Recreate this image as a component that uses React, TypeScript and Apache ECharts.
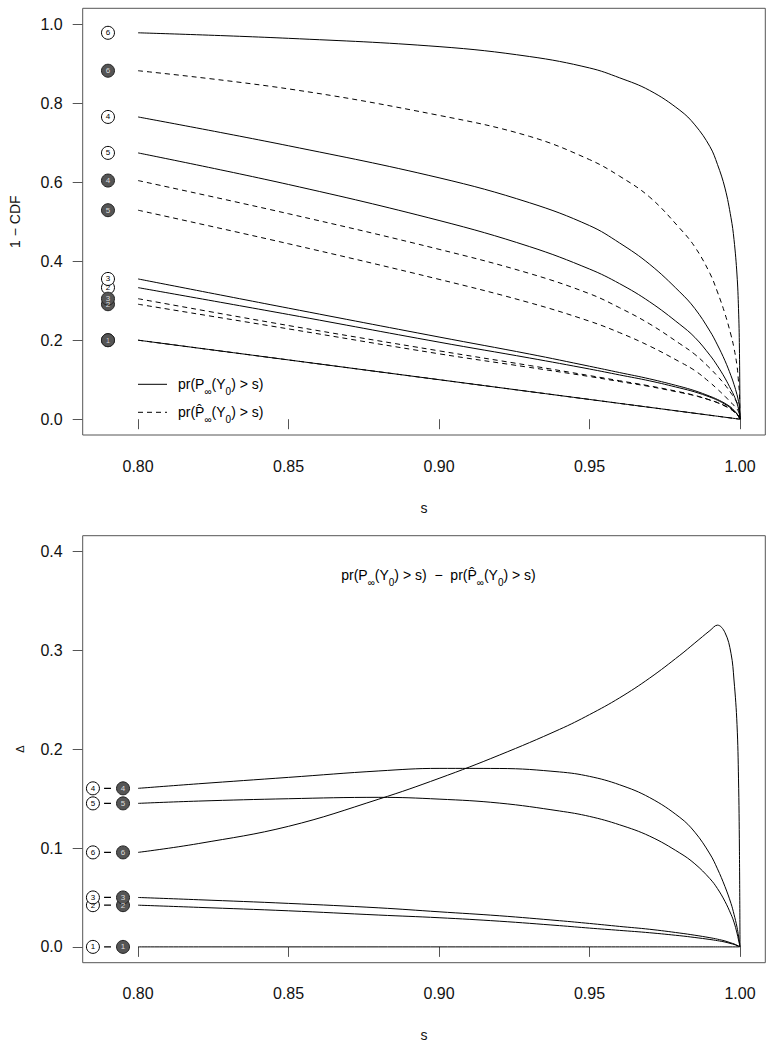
import React, { useEffect, useRef } from 'react';
import * as echarts from 'echarts';

// ---------- data ----------
const S_TOP = [0.8, 0.85, 0.9, 0.93, 0.95, 0.96, 0.97, 0.98, 0.985, 0.99, 0.9925, 0.995, 0.997, 0.998, 0.999, 0.9995, 0.9998, 1.0];

const TRUE_1 = [0.2, 0.15, 0.1, 0.07, 0.05, 0.04, 0.03, 0.02, 0.015, 0.01, 0.0075, 0.005, 0.003, 0.002, 0.001, 0.0005, 0.0002, 0];
const TRUE_2 = [0.333, 0.265, 0.195, 0.155, 0.127, 0.112, 0.097, 0.079, 0.069, 0.056, 0.048, 0.038, 0.028, 0.021, 0.013, 0.0075, 0.0037, 0];
const TRUE_3 = [0.355, 0.281, 0.208, 0.165, 0.134, 0.118, 0.102, 0.083, 0.072, 0.058, 0.05, 0.04, 0.03, 0.022, 0.014, 0.008, 0.004, 0];
const TRUE_4 = [0.765, 0.692, 0.611, 0.548, 0.49, 0.446, 0.392, 0.322, 0.28, 0.223, 0.188, 0.148, 0.11, 0.088, 0.062, 0.045, 0.03, 0];
const TRUE_5 = [0.674, 0.594, 0.503, 0.437, 0.38, 0.343, 0.297, 0.24, 0.207, 0.162, 0.135, 0.104, 0.075, 0.06, 0.04, 0.026, 0.015, 0];
const TRUE_6 = [0.978, 0.964, 0.943, 0.918, 0.889, 0.864, 0.832, 0.782, 0.745, 0.69, 0.645, 0.585, 0.51, 0.455, 0.365, 0.28, 0.18, 0];

const HAT_1 = [0.2, 0.15, 0.1, 0.07, 0.05, 0.04, 0.03, 0.02, 0.015, 0.01, 0.0075, 0.005, 0.003, 0.002, 0.001, 0.0005, 0.0002, 0];
const HAT_2 = [0.291, 0.2285, 0.1655, 0.1312, 0.108, 0.0953, 0.0827, 0.0677, 0.0595, 0.0485, 0.0417, 0.0331, 0.0247, 0.0185, 0.0117, 0.0068, 0.0034, 0];
const HAT_3 = [0.305, 0.237, 0.173, 0.136, 0.1104, 0.0973, 0.0842, 0.069, 0.0602, 0.0487, 0.0422, 0.034, 0.026, 0.019, 0.0124, 0.0072, 0.0037, 0];
const HAT_4 = [0.604, 0.52, 0.43, 0.369, 0.3175, 0.282, 0.241, 0.191, 0.164, 0.129, 0.109, 0.087, 0.066, 0.055, 0.042, 0.034, 0.025, 0];
const HAT_5 = [0.529, 0.444, 0.354, 0.295, 0.248, 0.219, 0.185, 0.145, 0.123, 0.093, 0.076, 0.058, 0.042, 0.035, 0.026, 0.019, 0.012, 0];
const HAT_6 = [0.882, 0.836, 0.769, 0.716, 0.657, 0.615, 0.562, 0.483, 0.436, 0.369, 0.322, 0.267, 0.213, 0.18, 0.135, 0.095, 0.065, 0];

const S_BOT = [0.8, 0.82, 0.85, 0.88, 0.9, 0.92, 0.94, 0.95, 0.96, 0.97, 0.98, 0.985, 0.99, 0.9925, 0.995, 0.997, 0.998, 0.999, 0.9995, 0.9998, 1.0];

const DIFF_1 = [0, 0, 0, 0, 0, 0, 0, 0, 0, 0, 0, 0, 0, 0, 0, 0, 0, 0, 0, 0, 0];
const DIFF_2 = [0.0422, 0.04, 0.0365, 0.0322, 0.0295, 0.026, 0.0215, 0.019, 0.0167, 0.0143, 0.0113, 0.0095, 0.0075, 0.0063, 0.0049, 0.0033, 0.0025, 0.0013, 0.0007, 0.0003, 0];
const DIFF_3 = [0.05, 0.0477, 0.044, 0.0395, 0.0355, 0.0315, 0.0265, 0.0237, 0.0207, 0.0178, 0.014, 0.0118, 0.0093, 0.0078, 0.006, 0.004, 0.003, 0.0016, 0.0008, 0.0003, 0];
const DIFF_4 = [0.1604, 0.165, 0.1715, 0.178, 0.1806, 0.1805, 0.177, 0.1725, 0.164, 0.151, 0.131, 0.116, 0.094, 0.079, 0.061, 0.044, 0.033, 0.02, 0.011, 0.005, 0];
const DIFF_5 = [0.1452, 0.1475, 0.1499, 0.1513, 0.1495, 0.1455, 0.1375, 0.132, 0.1235, 0.112, 0.095, 0.084, 0.069, 0.059, 0.046, 0.033, 0.025, 0.014, 0.007, 0.003, 0];
const DIFF_6 = [0.0956, 0.1045, 0.122, 0.1495, 0.1705, 0.194, 0.22, 0.235, 0.252, 0.272, 0.295, 0.3075, 0.32, 0.3255, 0.318, 0.297, 0.27, 0.225, 0.17, 0.1, 0];

const CASE_IDS = ['1', '2', '3', '4', '5', '6'];
const TRUE_CURVES = [TRUE_1, TRUE_2, TRUE_3, TRUE_4, TRUE_5, TRUE_6];
const HAT_CURVES = [HAT_1, HAT_2, HAT_3, HAT_4, HAT_5, HAT_6];
const DIFF_CURVES = [DIFF_1, DIFF_2, DIFF_3, DIFF_4, DIFF_5, DIFF_6];

const X_TICKS = [0.8, 0.85, 0.9, 0.95, 1.0];
const TOP_Y_TICKS = [0, 0.2, 0.4, 0.6, 0.8, 1.0];
const BOT_Y_TICKS = [0, 0.1, 0.2, 0.3, 0.4];

const TOP_MARK_X = 0.79;
const BOT_TRUE_MARK_X = 0.785;
const BOT_HAT_MARK_X = 0.795;
const BOT_DASH_X = [0.7887, 0.791];

// ---------- styling ----------
const FONT = '"Liberation Sans", Arial, Helvetica, sans-serif';
const NAME_TRUE = 'pr(P∞(Y0) > s)';
const NAME_HAT = 'pr(P\u0302∞(Y0) > s)';
const RICH: any = {
  n: { fontSize: 14, lineHeight: 24, verticalAlign: 'middle', fill: '#000', color: '#000', fontFamily: FONT },
  sub: { fontSize: 10, lineHeight: 18, verticalAlign: 'bottom', fill: '#000', color: '#000', fontFamily: FONT },
};
const RICH_TRUE = '{n|pr(P}{sub|∞}{n|(Y}{sub|0}{n|) > s)}';
const RICH_HAT = '{n|pr(P\u0302}{sub|∞}{n|(Y}{sub|0}{n|) > s)}';
const DASH: any = [5, 4];
const BOX = '#555';

function xAxisCfg(gridIndex: number) {
  return {
    type: 'value',
    gridIndex,
    min: 0.7816,
    max: 1.0084,
    axisLine: { show: false },
    splitLine: { show: false },
    axisTick: { show: true, inside: false, length: 10, customValues: X_TICKS, lineStyle: { color: BOX, width: 1 } },
    axisLabel: {
      show: true,
      customValues: X_TICKS,
      formatter: (v: number) => v.toFixed(2),
      fontSize: 16,
      margin: 23,
      color: '#111',
      fontFamily: FONT,
    },
  };
}

function yAxisCfg(gridIndex: number, min: number, max: number, ticks: number[]) {
  return {
    type: 'value',
    gridIndex,
    min,
    max,
    axisLine: { show: false },
    splitLine: { show: false },
    axisTick: { show: true, inside: false, length: 10, customValues: ticks, lineStyle: { color: BOX, width: 1 } },
    axisLabel: {
      show: true,
      customValues: ticks,
      formatter: (v: number) => v.toFixed(1),
      fontSize: 16,
      margin: 20,
      color: '#111',
      fontFamily: FONT,
    },
  };
}

function lineSeries(name: string, xs: number[], ys: number[], axis: number, dashed: boolean) {
  return {
    type: 'line',
    name,
    xAxisIndex: axis,
    yAxisIndex: axis,
    data: xs.map((s, k) => [s, ys[k]]),
    symbol: 'none',
    showSymbol: false,
    smooth: 0.4,
    lineStyle: { color: '#000', width: 1, type: dashed ? DASH : 'solid' },
    itemStyle: { color: '#000' },
    silent: true,
    z: 2,
  };
}

function markerSeries(name: string, x: number, values: number[], axis: number, filled: boolean) {
  return {
    type: 'scatter',
    name,
    xAxisIndex: axis,
    yAxisIndex: axis,
    symbol: 'circle',
    symbolSize: 13,
    data: values.map((v, k) => ({ name: CASE_IDS[k], value: [x, v] })),
    itemStyle: filled
      ? { color: '#555', borderColor: '#222', borderWidth: 1, opacity: 1 }
      : { color: '#fff', borderColor: '#000', borderWidth: 1, opacity: 1 },
    label: {
      show: true,
      position: 'inside',
      formatter: '{b}',
      fontSize: 8,
      fontFamily: FONT,
      color: filled ? '#ddd' : '#000',
    },
    silent: true,
    z: 5,
  };
}

function buildOption() {
  const series: any[] = [];
  TRUE_CURVES.forEach((c) => series.push(lineSeries(NAME_TRUE, S_TOP, c, 0, false)));
  HAT_CURVES.forEach((c) => series.push(lineSeries(NAME_HAT, S_TOP, c, 0, true)));
  series.push(markerSeries('true start', TOP_MARK_X, TRUE_CURVES.map((c) => c[0]), 0, false));
  series.push(markerSeries('hat start', TOP_MARK_X, HAT_CURVES.map((c) => c[0]), 0, true));

  DIFF_CURVES.forEach((c, i) => series.push(lineSeries('difference ' + CASE_IDS[i], S_BOT, c, 1, false)));
  DIFF_CURVES.forEach((c, i) =>
    series.push({
      type: 'line',
      name: 'dash ' + CASE_IDS[i],
      xAxisIndex: 1,
      yAxisIndex: 1,
      data: BOT_DASH_X.map((x) => [x, c[0]]),
      symbol: 'none',
      lineStyle: { color: '#000', width: 1.2 },
      silent: true,
      z: 3,
    })
  );
  series.push(markerSeries('true marker', BOT_TRUE_MARK_X, DIFF_CURVES.map((c) => c[0]), 1, false));
  series.push(markerSeries('hat marker', BOT_HAT_MARK_X, DIFF_CURVES.map((c) => c[0]), 1, true));

  const txt = (x: number, y: number, text: string, size: number, rot = 0) => ({
    type: 'text',
    x,
    y,
    rotation: rot,
    style: { text, fontSize: size, fontFamily: FONT, fill: '#111', align: 'center', verticalAlign: 'middle' },
  });

  return {
    animation: false,
    backgroundColor: '#fff',
    textStyle: { fontFamily: FONT },
    grid: [
      { left: 82.7, right: 9.7, top: 8.3, height: 426.7, show: true, borderColor: BOX, borderWidth: 1, backgroundColor: 'transparent' },
      { left: 82.7, right: 9.7, top: 535.7, height: 427, show: true, borderColor: BOX, borderWidth: 1, backgroundColor: 'transparent' },
    ],
    xAxis: [xAxisCfg(0), xAxisCfg(1)],
    yAxis: [yAxisCfg(0, -0.04, 1.04, TOP_Y_TICKS), yAxisCfg(1, -0.016, 0.416, BOT_Y_TICKS)],
    graphic: [
      txt(15, 221.7, '1 − CDF', 14, Math.PI / 2),
      txt(424, 508, 's', 14),
      txt(20, 749.2, 'Δ', 11, Math.PI / 2),
      txt(424, 1035, 's', 14),
      // legend (top panel)
      { type: 'line', shape: { x1: 138, y1: 384.3, x2: 167, y2: 384.3 }, style: { stroke: '#000', lineWidth: 1 } },
      { type: 'line', shape: { x1: 138, y1: 412.3, x2: 167, y2: 412.3 }, style: { stroke: '#000', lineWidth: 1, lineDash: DASH } },
      { type: 'text', x: 178, y: 384.3, style: { text: RICH_TRUE, rich: RICH, align: 'left', verticalAlign: 'middle', fontFamily: FONT } },
      { type: 'text', x: 178, y: 412.3, style: { text: RICH_HAT, rich: RICH, align: 'left', verticalAlign: 'middle', fontFamily: FONT } },
      // bottom panel annotation
      {
        type: 'text',
        x: 438.5,
        y: 575,
        style: {
          text: RICH_TRUE + '{n|  −  }' + RICH_HAT,
          rich: RICH,
          align: 'center',
          verticalAlign: 'middle',
          fontFamily: FONT,
        },
      },
    ],
    series,
  };
}

export default function App() {
  const ref = useRef<HTMLDivElement>(null);
  useEffect(() => {
    if (!ref.current) return;
    const chart = echarts.init(ref.current, null, { renderer: 'svg' });
    chart.setOption(buildOption() as any);
    return () => chart.dispose();
  }, []);
  return <div ref={ref} style={{ position: 'absolute', left: 0, top: 0, width: 775, height: 1048 }} />;
}
